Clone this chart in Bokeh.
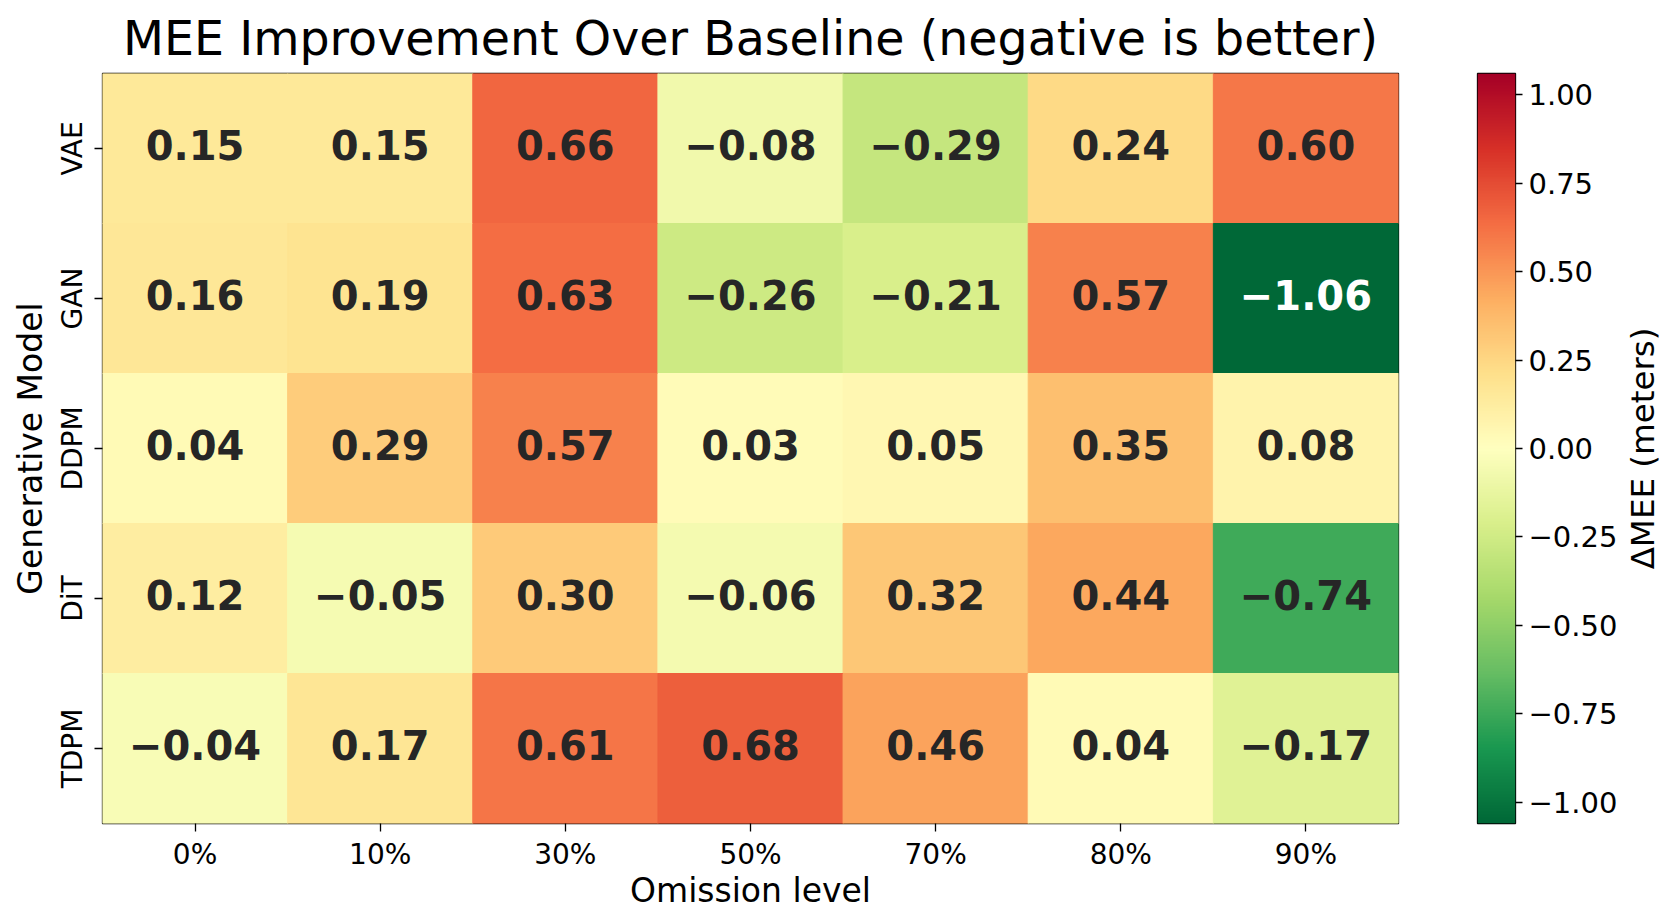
import math
import numpy as np
from bokeh.plotting import figure
from bokeh.models import (ColumnDataSource, LinearColorMapper, FixedTicker, Range1d,
                          FactorRange, CustomJSTickFormatter)
from bokeh.layouts import row
from bokeh.embed import file_html
from bokeh.resources import INLINE
from bokeh.core.properties import value
from bokeh.transform import transform

# ---------------- data ----------------
models = ["VAE", "GAN", "DDPM", "DiT", "TDPM"]
levels = ["0%", "10%", "30%", "50%", "70%", "80%", "90%"]
vae_vals = [0.15, 0.15, 0.66, -0.08, -0.29, 0.24, 0.60]
gan_vals = [0.16, 0.19, 0.63, -0.26, -0.21, 0.57, -1.06]
ddpm_vals = [0.04, 0.29, 0.57, 0.03, 0.05, 0.35, 0.08]
dit_vals = [0.12, -0.05, 0.30, -0.06, 0.32, 0.44, -0.74]
tdpm_vals = [-0.04, 0.17, 0.61, 0.68, 0.46, 0.04, -0.17]
cbar_ticks = [-1.0, -0.75, -0.5, -0.25, 0.0, 0.25, 0.5, 0.75, 1.0]
title_text = "MEE Improvement Over Baseline (negative is better)"
x_label = "Omission level"
y_label = "Generative Model"
cbar_label = "\u0394MEE (meters)"
vmin, vmax = -1.06, 1.06

# ---------------- colormap (matplotlib RdYlGn_r) ----------------
brewer = ["#a50026", "#d73027", "#f46d43", "#fdae61", "#fee08b", "#ffffbf",
          "#d9ef8b", "#a6d96a", "#66bd63", "#1a9850", "#006837"]
anchors = [tuple(int(h[i:i + 2], 16) for i in (1, 3, 5)) for h in brewer[::-1]]
palette = []
for i in range(256):
    t = i / 255 * (len(anchors) - 1)
    k = min(int(math.floor(t)), len(anchors) - 2)
    f = t - k
    c = [round(anchors[k][j] * (1 - f) + anchors[k + 1][j] * f) for j in range(3)]
    palette.append("#%02x%02x%02x" % tuple(c))
mapper = LinearColorMapper(palette=palette, low=vmin, high=vmax)

rows = {"VAE": vae_vals, "GAN": gan_vals, "DDPM": ddpm_vals, "DiT": dit_vals, "TDPM": tdpm_vals}
xs, ys, vs, labels, tcs = [], [], [], [], []
for m in models:
    for lvl, v in zip(levels, rows[m]):
        xs.append(lvl)
        ys.append(m)
        vs.append(v)
        labels.append(f"{v:.2f}".replace("-", "\u2212"))
        tcs.append("white" if abs(v) > 0.9 else "#262626")
src = ColumnDataSource(dict(x=xs, y=ys, v=vs, label=labels, tc=tcs))

FONT = "DejaVu Sans"
FW, FH = 1296, 750
TOP, BOT = 70, 80

# ---------------- main heatmap ----------------
p = figure(frame_width=FW, frame_height=FH,
           x_range=FactorRange(*levels), y_range=FactorRange(*models[::-1]),
           min_border_left=102, min_border_right=22, min_border_top=TOP, min_border_bottom=BOT,
           output_backend="svg", toolbar_location=None, title=title_text)
p.rect(x="x", y="y", width=1, height=1, source=src,
       fill_color=transform("v", mapper), line_color=transform("v", mapper), line_width=1)
p.text(x="x", y="y", text="label", source=src, text_align="center", text_baseline="middle",
       y_offset=-4,
       text_font=value(FONT), text_font_style="bold", text_font_size="40px", text_color="tc")

p.title.text_font = FONT
p.title.text_font_size = "47.5px"
p.title.text_font_style = "normal"
p.title.align = "center"
p.title.text_color = "black"
p.title.standoff = 16
p.xgrid.visible = False
p.ygrid.visible = False
p.outline_line_color = "black"
p.outline_line_width = 1.3
for ax in (p.xaxis, p.yaxis):
    ax.axis_line_color = None
    ax.major_tick_out = 8
    ax.major_tick_in = 0
    ax.major_tick_line_color = "black"
    ax.major_tick_line_width = 1.3
    ax.minor_tick_line_color = None
    ax.major_label_text_font = FONT
    ax.major_label_text_font_size = "28px"
    ax.major_label_text_color = "black"
    ax.axis_label_text_font = FONT
    ax.axis_label_text_font_size = "33px"
    ax.axis_label_text_font_style = "normal"
    ax.axis_label_text_color = "black"
p.xaxis.axis_label = x_label
p.yaxis.axis_label = y_label
p.yaxis.major_label_orientation = "vertical"
p.xaxis.major_label_standoff = 6
p.yaxis.major_label_standoff = 6
p.xaxis.axis_label_standoff = -3
p.yaxis.axis_label_standoff = 3

# ---------------- colorbar ----------------
cb = figure(frame_width=38, frame_height=FH, x_range=Range1d(0, 1), y_range=Range1d(vmin, vmax),
            x_axis_location=None, y_axis_location="right",
            min_border_left=57, min_border_right=20, min_border_top=TOP, min_border_bottom=BOT,
            output_backend="svg", toolbar_location=None)
grad = np.linspace(vmin, vmax, 256).reshape(256, 1)
cb.image(image=[grad], x=0, y=vmin, dw=1, dh=vmax - vmin, color_mapper=mapper)
cb.xgrid.visible = False
cb.ygrid.visible = False
cb.outline_line_color = "black"
cb.outline_line_width = 1.3
ya = cb.yaxis
ya.ticker = FixedTicker(ticks=cbar_ticks)
ya.formatter = CustomJSTickFormatter(code="return tick.toFixed(2).replace('-', '\u2212');")
ya.axis_line_color = None
ya.major_tick_out = 7
ya.major_tick_in = 0
ya.major_tick_line_color = "black"
ya.major_tick_line_width = 1.3
ya.minor_tick_line_color = None
ya.major_label_text_font = FONT
ya.major_label_text_font_size = "29px"
ya.major_label_text_color = "black"
ya.major_label_standoff = 6

# ---------------- colorbar label (left axis of a thin strip, reads bottom-to-top) ----------------
lb = figure(frame_width=1, frame_height=FH, x_range=Range1d(0, 1), y_range=Range1d(0, 1),
            x_axis_location=None, y_axis_location="left",
            min_border_left=0, min_border_right=0, min_border_top=TOP, min_border_bottom=BOT,
            output_backend="svg", toolbar_location=None)
lb.outline_line_color = None
lb.xgrid.visible = False
lb.ygrid.visible = False
la = lb.yaxis
la.ticker = FixedTicker(ticks=[])
la.axis_line_color = None
la.major_tick_line_color = None
la.minor_tick_line_color = None
la.major_label_text_color = None
la.major_tick_out = 0
la.major_label_standoff = 0
la.axis_label = cbar_label
la.axis_label_standoff = 0
la.axis_label_text_font = FONT
la.axis_label_text_font_size = "32.5px"
la.axis_label_text_font_style = "normal"
la.axis_label_text_color = "black"

layout = row(p, cb, lb)
open("out.html", "w").write(file_html(layout, INLINE))
